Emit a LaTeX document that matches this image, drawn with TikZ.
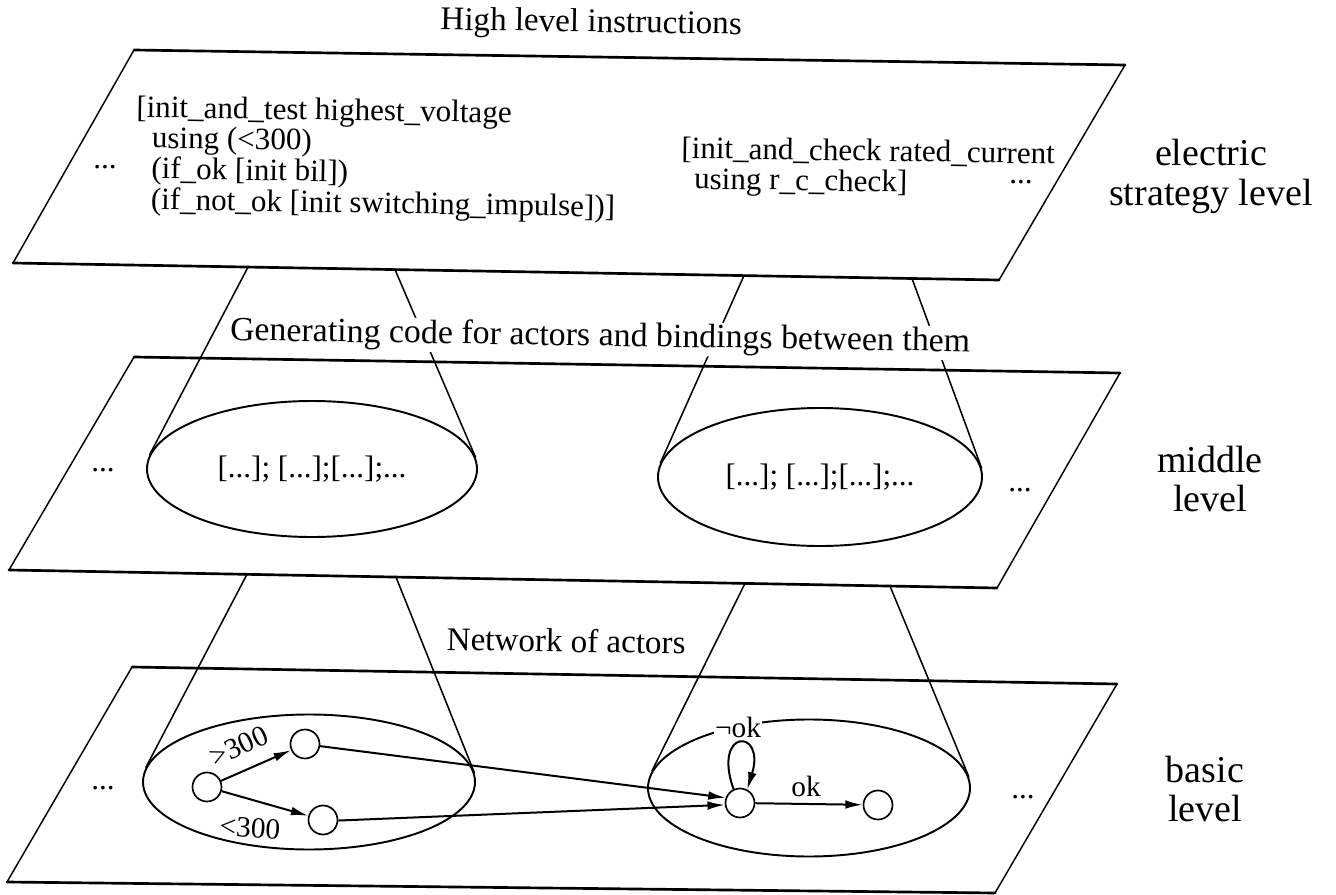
\documentclass[tikz,border=0pt]{standalone}
\usepackage{fontspec}
\setmainfont{Liberation Serif}
\usetikzlibrary{shapes.geometric,arrows.meta}
\begin{document}
\begin{tikzpicture}[x=0.75pt,y=-0.75pt,
  hedge/.style={line width=2pt,line cap=round},
  sedge/.style={line width=1.1pt,line cap=round,line join=round},
  cone/.style={line width=1.15pt},
  lvl/.style={ellipse,draw,line width=1.45pt,inner sep=0pt,font=\fontsize{23.3pt}{24pt}\selectfont},
  actor/.style={circle,draw,line width=1.25pt,minimum size=21.75pt,inner sep=0pt},
  arr/.style={line width=1.5pt,-{Latex[length=13pt,width=6.5pt]}},
  txt/.style={inner sep=0pt,rotate=-0.9,font=\fontsize{23.3pt}{22.5pt}\selectfont},
  dots/.style={inner sep=0pt,font=\fontsize{23.3pt}{24pt}\selectfont},
  head/.style={inner sep=0pt,rotate=-0.9,font=\fontsize{24.8pt}{26pt}\selectfont},
  lab/.style={inner sep=0pt,font=\fontsize{28.5pt}{29.5pt}\selectfont},
  elab/.style={inner sep=0pt,font=\fontsize{22pt}{24pt}\selectfont}
]
\useasboundingbox (0,0) rectangle (1336,895);
\fill[white] (0,0) rectangle (1336,895);

% ---------- planes ----------
\coordinate (T1) at (134,50);  \coordinate (T2) at (1125,65);
\coordinate (T3) at (999,280); \coordinate (T4) at (13,263);
\coordinate (M1) at (134,357); \coordinate (M2) at (1120,373);
\coordinate (M3) at (997,588); \coordinate (M4) at (9,570);
\coordinate (B1) at (132,667); \coordinate (B2) at (1117,684);
\coordinate (B3) at (995,893); \coordinate (B4) at (7,882);
\foreach \p in {T,M,B}{
  \draw[sedge] (\p1) -- (\p2) -- (\p3) -- (\p4) -- cycle;
  \draw[hedge] (\p1) -- (\p2) (\p4) -- (\p3);
}

% ---------- title and top texts ----------
\node[head,anchor=base] (title) at (591,32) {High level instructions};
\node[txt,anchor=base west] (blk1) at (136,117) {\begin{tabular}[t]{@{}l@{}}[init\_and\_test highest\_voltage\\
\hspace*{12pt}using (<300)\\
\hspace*{12pt}(if\_ok [init bil])\\
\hspace*{12pt}(if\_not\_ok [init switching\_impulse])]\end{tabular}};
\node[txt,anchor=base west] (blk2) at (681,158) {\begin{tabular}[t]{@{}l@{}}[init\_and\_check rated\_current\\
\hspace*{10pt}using r\_c\_check]\end{tabular}};
\node[dots] (d1) at (105,167) {...};
\node[dots] (d2) at (1021,182) {...};

% ---------- level labels ----------
\node[lab,anchor=base] (lab1) at (1211,166) {\begin{tabular}[t]{@{}c@{}}electric\\strategy level\end{tabular}};
\node[lab,anchor=base] (lab2) at (1210,472) {\begin{tabular}[t]{@{}c@{}}middle\\level\end{tabular}};
\node[lab,anchor=base] (lab3) at (1205,782) {\begin{tabular}[t]{@{}c@{}}basic\\level\end{tabular}};

% ---------- ellipses ----------
\node[lvl,minimum width=247.5pt,minimum height=102pt] (E1) at (312,469) {[...]; [...];[...];...};
\node[lvl,minimum width=243pt,minimum height=103.5pt] (E2) at (820,477) {[...]; [...];[...];...};
\node[lvl,minimum width=249pt,minimum height=101.25pt] (E3) at (309,782) {};
\node[lvl,minimum width=241.5pt,minimum height=102.75pt] (E4) at (809,788) {};
\node[dots] (d3) at (103,470) {...};
\node[dots] (d4) at (1020,490) {...};
\node[dots] (d5) at (103,788) {...};
\node[dots] (d6) at (1023,797) {...};

% ---------- cones ----------
\coordinate (c1) at (248,267.1); \coordinate (c2) at (395,269.6);
\coordinate (c3) at (744,275.6); \coordinate (c4) at (912,278.5);
\coordinate (c5) at (247,574.3); \coordinate (c6) at (396,577.1);
\coordinate (c7) at (745,583.4); \coordinate (c8) at (890,586.1);
\draw[cone] (c1) -- (E1.175);
\draw[cone] (c2) -- (E1.4.2);
\draw[cone] (c3) -- (E2.175.3);
\draw[cone] (c4) -- (E2.3.9);
\draw[cone] (c5) -- (E3.175.1);
\draw[cone] (c6) -- (E3.3.8);
\draw[cone] (c7) -- (E4.174.9);
\draw[cone] (c8) -- (E4.4.3);

\node[head,anchor=base,fill=white,inner sep=1pt,font=\fontsize{25.4pt}{27pt}\selectfont] (gen) at (600,346) {Generating code for actors and bindings between them};
\node[head,anchor=base,fill=white,inner sep=1pt] (net) at (566,652) {Network of actors};

% ---------- actor network ----------
\node[actor] (s) at (207,787) {};
\node[actor] (u) at (305,744) {};
\node[actor] (l) at (323,820) {};
\node[actor] (m) at (740,803) {};
\node[actor] (t) at (878,805) {};
\draw[arr] (s) -- (u);
\draw[arr] (s) -- (l);
\draw[arr] (u.-8) -- (m.160);
\draw[arr] (l.-2) -- (m.187);
\draw[arr] (m) -- (t);
\draw[arr] (m.115) .. controls (712,728) and (766,728) .. (m.62);
\node[elab,rotate=25] (gt) at (239,746) {>300};
\node[elab,rotate=-4] (lt) at (250,828) {<300};
\node[elab] (ok) at (806,786) {ok};
\node[elab,fill=white,inner sep=1pt] (nok) at (738,727) {¬ok};
\end{tikzpicture}
\end{document}
